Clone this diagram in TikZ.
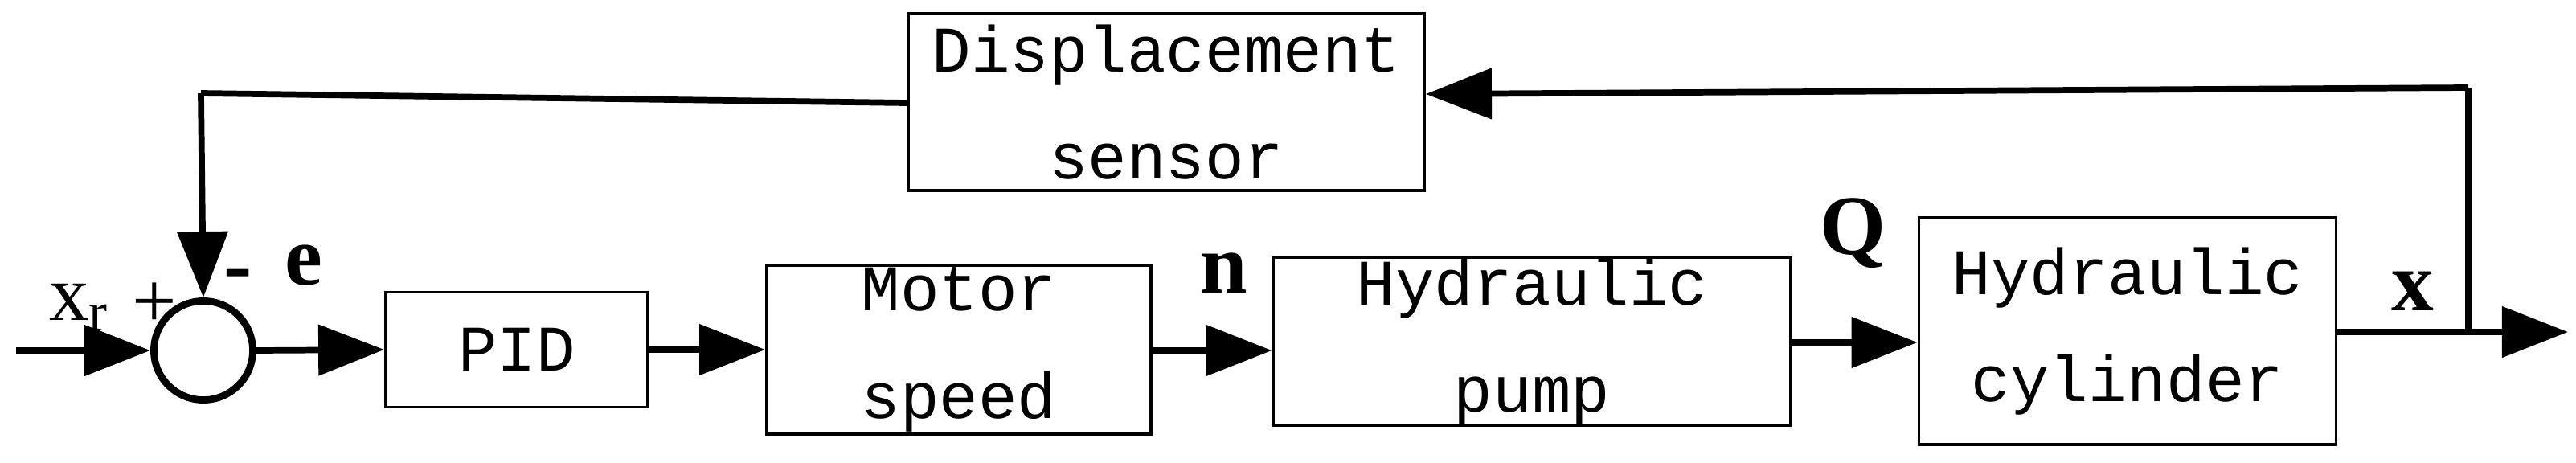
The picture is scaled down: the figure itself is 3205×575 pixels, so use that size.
\documentclass[tikz,border=0pt]{standalone}
\usepackage{fontspec}
\setmainfont{Liberation Serif}
\newfontfamily\boxfont{Liberation Mono}
\usetikzlibrary{arrows.meta}
\begin{document}
\begin{tikzpicture}[x=0.01cm,y=-0.01cm,
  blk/.style={draw,line width=1pt,inner sep=0pt,font=\boxfont\fontsize{23}{38}\selectfont,align=center},
  sig/.style={line width=2.2pt,-{Triangle[length=0.82cm,width=0.62cm]}},
  lbl/.style={font=\fontsize{30}{32}\selectfont\bfseries}]
\useasboundingbox (0,0) rectangle (3205,575);
\node[blk,minimum width=6.42cm,minimum height=2.2cm] (ds) at (1451,127) {Displacement\\sensor};
\node[draw,line width=2.5pt,minimum size=1.23cm,circle,inner sep=0pt] (sum) at (253,436) {};
\node[blk,minimum width=3.26cm,minimum height=1.43cm] (pid) at (643,435) {PID};
\node[blk,minimum width=4.78cm,minimum height=2.1cm] (mot) at (1193,435) {Motor\\speed};
\node[blk,minimum width=6.43cm,minimum height=1.91cm] (pump) at (1906,425) {Hydraulic\\pump};
\node[blk,minimum width=5.19cm,minimum height=2.82cm] (cyl) at (2647,412) {Hydraulic\\cylinder};
\coordinate (in) at (20,436);
\coordinate (out) at (3195,413);
\coordinate (tap) at (3071,413);
\coordinate (top) at (3071,109);
\coordinate (fb) at (250,116);
\draw[sig] (in) -- (sum.west);
\draw[sig] (sum.east) -- (pid.west);
\draw[sig] (pid.east) -- (mot.west);
\draw[sig] (mot.east |- 0,436) -- (pump.west |- 0,436);
\draw[sig] (pump.east |- 0,426) -- (cyl.west |- 0,426);
\draw[sig] (cyl.east |- out) -- (out);
\draw[line width=2.2pt] (tap) -- (top);
\draw[sig] (top) -- (ds.east |- 0,117);
\draw[line width=2.2pt] (ds.west |- 0,128) -- (fb);
\draw[sig] (fb) -- (sum.north);
\node[font=\fontsize{28}{30}\selectfont] (xr) at (98,382) {x\textsubscript{r}};
\node[font=\fontsize{28}{30}\selectfont] (plus) at (192,380) {+};
\node[lbl] (minus) at (296,350) {-};
\node[lbl] (e) at (378,330) {e};
\node[lbl] (n) at (1523,340) {n};
\node[lbl] (q) at (2306,290) {Q};
\node[lbl] (x) at (3002,362) {x};
\end{tikzpicture}
\end{document}
